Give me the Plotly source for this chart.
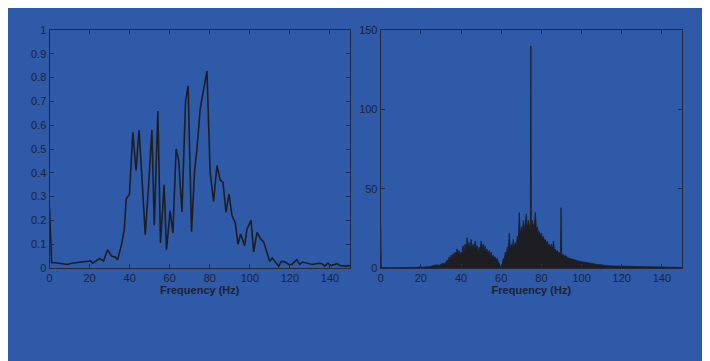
import plotly.graph_objects as go

# ---- Left panel: smoothed spectrum (normalised) ----
left_freq = [0, 1.1, 3, 5, 7, 9, 11, 13, 15, 17, 19, 20.5, 21.5, 23, 25, 27, 29, 31, 33, 34,
             36, 37.3, 38.3, 39.9, 41.6, 43.2, 44.7, 46, 47.8, 49.5, 51.1, 52.3, 54.1, 55.4, 57.2,
             58.4, 60.2, 61.6, 63.2, 64.5, 66.1, 67.9, 69.2, 70.9, 72.4, 73.6, 75.2, 78.6, 80.2,
             81.9, 83.6, 85.2, 86.6, 88.1, 89.6, 91.1, 92.7, 94.1, 95.4, 97.4, 98.6, 100.6, 101.9,
             103.6, 105.6, 106.9, 108.6, 109.9, 111.2, 112.9, 114.4, 115.7, 117.4, 119.4, 121,
             123.4, 124.9, 126.4, 128.6, 131.1, 134.4, 136, 137.4, 138.9, 140.6, 143.6, 145.2,
             147.7, 150]
left_amp = [0.25, 0.022, 0.022, 0.02, 0.015, 0.015, 0.02, 0.022, 0.025, 0.025, 0.03, 0.03, 0.02,
            0.03, 0.04, 0.03, 0.077, 0.05, 0.045, 0.034, 0.1, 0.16, 0.29, 0.31, 0.57, 0.41, 0.58,
            0.4, 0.14, 0.35, 0.58, 0.18, 0.66, 0.105, 0.35, 0.077, 0.24, 0.147, 0.5, 0.45, 0.235,
            0.7, 0.765, 0.153, 0.405, 0.5, 0.668, 0.828, 0.4, 0.28, 0.43, 0.37, 0.36, 0.235, 0.31,
            0.22, 0.19, 0.1, 0.143, 0.094, 0.164, 0.2, 0.068, 0.15, 0.12, 0.11, 0.062, 0.028, 0.042,
            0.021, 0.007, 0.028, 0.026, 0.015, 0.015, 0.035, 0.015, 0.025, 0.02, 0.015, 0.02, 0.018,
            0.008, 0.02, 0.01, 0.018, 0.01, 0.008, 0.01]

# ---- Right panel: raw FFT magnitude (upper envelope) ----
right_freq = [0, 0.3, 5, 10, 15, 19, 20, 20.5, 24, 26, 28, 29, 30, 31, 32, 33, 33.5, 34, 34.5, 35,
              35.5, 36, 36.5, 37, 37.5, 38, 38.5, 39, 39.5, 40, 40.5, 41, 41.5, 42, 42.5, 43, 43.5,
              44, 44.5, 45, 45.5, 46, 46.5, 47, 47.5, 48, 48.5, 49, 49.5, 50, 50.5, 51, 51.5, 52,
              52.5, 53, 53.5, 54, 54.5, 55, 55.5, 56, 56.5, 57, 57.5, 58, 58.5, 59, 59.5, 60, 60.5,
              61, 61.5, 62, 62.5, 63, 63.5, 64, 64.5, 65, 65.5, 66, 66.5, 67, 67.5, 68, 68.5, 69,
              69.5, 70, 70.5, 71, 71.5, 72, 72.5, 73, 73.5, 74, 74.5, 74.75, 75, 75.5, 76, 76.5, 77,
              77.5, 78, 78.5, 79, 79.5, 80, 80.5, 81, 81.5, 82, 82.5, 83, 83.5, 84, 84.5, 85, 85.5,
              86, 86.5, 87, 87.5, 88, 88.5, 89, 89.5, 89.8, 90.1, 91, 91.5, 92, 93, 94, 95, 96, 97,
              98, 100, 102, 104, 106, 108, 110, 112, 115, 118, 122, 126, 130, 135, 140, 145, 150]
right_amp = [27, 0.3, 0.2, 0.3, 0.3, 0.4, 1.2, 0.4, 0.8, 1.2, 2, 1.5, 2.5, 3, 2.5, 5, 4, 7, 5, 8,
             6, 9, 7, 10, 8, 12, 9, 11, 8, 10, 9, 14, 10, 15, 11, 19, 13, 16, 11, 18, 12, 15, 11,
             17, 12, 14, 10, 13, 11, 17, 12, 15, 11, 14, 10, 12, 9, 11, 8, 10, 7, 8, 6, 7, 5, 6, 4,
             3, 1, 0.8, 2, 6, 5, 10, 8, 13, 10, 22, 12, 15, 12, 18, 13, 16, 14, 20, 16, 35, 20, 26,
             22, 30, 24, 28, 34, 25, 30, 27, 24, 140, 24, 30, 26, 28, 35, 24, 26, 22, 23, 20, 22,
             18, 20, 17, 18, 15, 17, 14, 15, 13, 15, 12, 17, 11, 12, 10, 11, 9, 10, 8, 38, 8, 8.5,
             7, 8, 6.5, 6, 5.5, 5.5, 5, 4.5, 4, 3.5, 3, 2.5, 2.2, 2, 1.5, 1.3, 1.2, 1, 0.9, 0.7,
             0.6, 0.5, 0.4, 0.3]

x_ticks = [0, 20, 40, 60, 80, 100, 120, 140]
left_y_ticks = [0, 0.1, 0.2, 0.3, 0.4, 0.5, 0.6, 0.7, 0.8, 0.9, 1]
left_y_labels = ["0", "0.1", "0.2", "0.3", "0.4", "0.5", "0.6", "0.7", "0.8", "0.9", "1"]
right_y_ticks = [0, 50, 100, 150]

BLUE = "#2E5AA8"
INK = "#1E1E22"
AX = "#23283a"

fig = go.Figure()
fig.add_trace(go.Scatter(x=left_freq, y=left_amp, mode="lines",
                         line=dict(color=INK, width=1.6), xaxis="x", yaxis="y",
                         showlegend=False, hoverinfo="skip"))
fig.add_trace(go.Scatter(x=right_freq, y=right_amp, mode="lines",
                         line=dict(color=INK, width=0.8), fill="tozeroy", fillcolor=INK,
                         xaxis="x2", yaxis="y2", showlegend=False, hoverinfo="skip"))

font = dict(family="Liberation Sans, Arial, sans-serif", size=11, color="#1f2230")
common_x = dict(range=[0, 150], tickvals=x_ticks, ticks="inside", ticklen=4, tickcolor=AX,
                showline=True, linecolor=AX, linewidth=1, mirror="ticks", showgrid=False,
                zeroline=False, tickfont=font,
                title=dict(text="<b>Frequency (Hz)</b>", font=font, standoff=2))
common_y = dict(ticks="inside", ticklen=4, tickcolor=AX, showline=True, linecolor=AX,
                linewidth=1, mirror="ticks", showgrid=False, zeroline=False, tickfont=font)

fig.update_layout(
    width=695, height=353,
    margin=dict(l=41, r=21, t=22, b=93),
    paper_bgcolor=BLUE, plot_bgcolor=BLUE,
    xaxis=dict(domain=[0.0008, 0.4755], anchor="y", **common_x),
    yaxis=dict(domain=[0, 1], anchor="x", range=[0, 1], tickvals=left_y_ticks,
               ticktext=left_y_labels, **common_y),
    xaxis2=dict(domain=[0.524, 1], anchor="y2", **common_x),
    yaxis2=dict(domain=[0, 1], anchor="x2", range=[0, 150], tickvals=right_y_ticks, **common_y),
)

fig.write_html("out.html")
